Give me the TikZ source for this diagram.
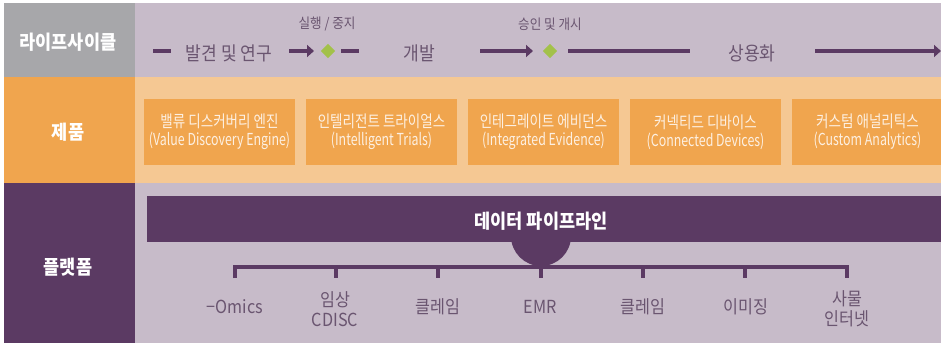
\documentclass[tikz,border=0pt]{standalone}
\usepackage{fontspec}
\setmainfont{Noto Sans CJK KR}[FakeStretch=0.9]
\newfontfamily\korfont{Noto Sans CJK KR}[FakeStretch=0.82]
\newfontfamily\engfont{Noto Sans CJK KR}[FakeStretch=0.75]
\usetikzlibrary{arrows.meta}
\definecolor{lifegray}{HTML}{A7A7AA}
\definecolor{lilac}{HTML}{C7BBC9}
\definecolor{prodorange}{HTML}{F0A54E}
\definecolor{paleorange}{HTML}{F5C893}
\definecolor{plum}{HTML}{5B3A63}
\definecolor{leaf}{HTML}{A3C14A}
\definecolor{labeltext}{HTML}{6A5570}
\definecolor{boxtext}{HTML}{FDF0E2}

\begin{document}
\begin{tikzpicture}[x=1pt,y=-1pt,
  head/.style={white,font=\fontsize{19.5}{22}\selectfont\bfseries},
  stage/.style={labeltext,font=\fontsize{19}{22}\selectfont},
  gate/.style={labeltext,font=\fontsize{14}{16}\selectfont},
  gem/.style={fill=leaf,minimum size=10pt,inner sep=0pt,rotate=45},
  product/.style={fill=prodorange,text=boxtext,minimum width=151pt,minimum height=66pt,
    inner sep=0pt,align=center,font=\fontsize{16.5}{18}\selectfont\korfont},
  source/.style={labeltext,align=center,font=\fontsize{18}{20}\selectfont},
  flow/.style={plum,line width=4pt},
  tick/.style={plum,line width=3.5pt}]
\clip (0,0) rectangle (941,343);
\fill[white] (0,0) rectangle (941,343);

\fill[lifegray] (4,3) rectangle (135,77);
\fill[lilac] (135,3) rectangle (941,77);
\fill[prodorange] (4,77) rectangle (135,183);
\fill[paleorange] (135,77) rectangle (941,183);
\fill[plum] (4,183) rectangle (135,343);
\fill[lilac] (135,183) rectangle (941,343);

\node[head] (life) at (68,42) {라이프사이클};
\node[head] (prod) at (68,132) {제품};
\node[head] (plat) at (68,267) {플랫폼};

\node[stage] (discover) at (229,53) {발견 및 연구};
\node[stage] (develop) at (419,53) {개발};
\node[stage] (market) at (752,53) {상용화};
\node[gate] (halt) at (327,24) {실행 / 중지};
\node[gate] (approve) at (550,24) {승인 및 개시};
\node[gem] (gate1) at (328,51) {};
\node[gem] (gate2) at (550,51) {};

\coordinate (a0) at (153,51);
\coordinate (a1) at (171,51);
\coordinate (b0) at (289,51);
\coordinate (b1) at (314,51);
\coordinate (c0) at (341,51);
\coordinate (c1) at (359,51);
\coordinate (d0) at (480,51);
\coordinate (d1) at (533,51);
\coordinate (e0) at (568,51);
\coordinate (e1) at (690,51);
\coordinate (f0) at (815,51);
\coordinate (f1) at (941,51);

\draw[flow] (a0) -- (a1);
\draw[flow,-{Triangle[length=7pt,width=12pt]}] (b0) -- (b1);
\draw[flow] (c0) -- (c1);
\draw[flow,-{Triangle[length=7pt,width=12pt]}] (d0) -- (d1);
\draw[flow] (e0) -- (e1);
\draw[flow,-{Triangle[length=7pt,width=12pt]}] (f0) -- (f1);

\node[product] (vde) at (219.5,132) {밸류 디스커버리 엔진\\{\engfont (Value Discovery Engine)}};
\node[product] (trials) at (381.5,132) {인텔리전트 트라이얼스\\{\engfont (Intelligent Trials)}};
\node[product] (evidence) at (543.5,132) {인테그레이트 에비던스\\{\engfont (Integrated Evidence)}};
\node[product] (devices) at (705.5,132) {커넥티드 디바이스\\{\engfont (Connected Devices)}};
\node[product] (analytics) at (867.5,132) {커스텀 애널리틱스\\{\engfont (Custom Analytics)}};

\fill[plum] (541,236) circle (30);
\fill[plum] (147,196) rectangle (941,242);
\node[head] (pipe) at (541,221) {데이터 파이프라인};

\coordinate (t1) at (235,267);
\coordinate (b1) at (235,278);
\coordinate (t2) at (336,267);
\coordinate (b2) at (336,278);
\coordinate (t3) at (438,267);
\coordinate (b3) at (438,278);
\coordinate (t4) at (541,267);
\coordinate (b4) at (541,278);
\coordinate (t5) at (643,267);
\coordinate (b5) at (643,278);
\coordinate (t6) at (745,267);
\coordinate (b6) at (745,278);
\coordinate (t7) at (847,267);
\coordinate (b7) at (847,278);

\draw[tick] (b1) -- (t1) -- (t7) -- (b7);
\draw[tick] (t2) -- (b2);
\draw[tick] (t3) -- (b3);
\draw[tick] (t4) -- (b4);
\draw[tick] (t5) -- (b5);
\draw[tick] (t6) -- (b6);

\node[source] (omics) at (235,307) {−Omics};
\node[source] (cdisc) at (335,309) {임상\\CDISC};
\node[source] (claim1) at (438,307) {클레임};
\node[source] (emr) at (540,307) {EMR};
\node[source] (claim2) at (643,307) {클레임};
\node[source] (imaging) at (746,307) {이미징};
\node[source] (iot) at (847,309) {사물\\인터넷};
\end{tikzpicture}
\end{document}
